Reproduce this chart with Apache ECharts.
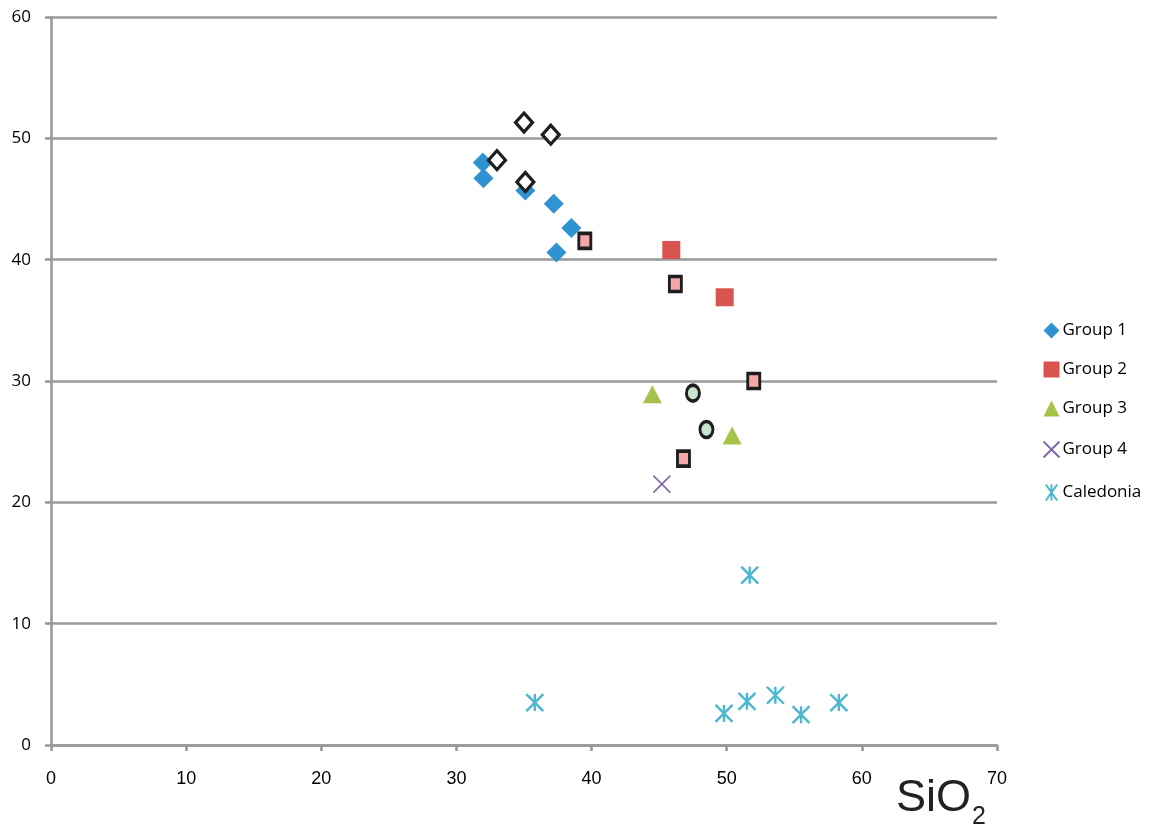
<!DOCTYPE html>
<html><head><meta charset="utf-8">
<script src="https://cdn.jsdelivr.net/npm/echarts@6/dist/echarts.min.js"></script>
<style>html,body{margin:0;padding:0;background:#fff}#c{width:1150px;height:833px}</style>
</head><body><div id="c"></div>
<script>
// Data (SiO2, value)
const group1 = [[31.95,48.0],[32.0,46.7],[35.1,45.7],[37.2,44.6],[38.5,42.6],[37.4,40.6]];
const group2 = [[45.9,40.8],[49.85,36.9]];
const group3 = [[44.5,28.9],[50.4,25.5]];
const group4 = [[45.2,21.5]];
const caledonia = [[51.7,14.0],[35.8,3.5],[49.8,2.6],[51.5,3.6],[53.6,4.1],[55.5,2.5],[58.3,3.5]];
const openDiamonds = [[35.0,51.3],[36.98,50.3],[33.0,48.2],[35.1,46.4]];
const pinkSquares = [[39.5,41.55],[46.2,38.0],[52.0,30.0],[46.8,23.6]];
const greenCircles = [[47.5,29.0],[48.5,26.0]];
const xTicks = [0,10,20,30,40,50,60,70];
const yTicks = [0,10,20,30,40,50,60];
const legendNames = ['Group 1','Group 2','Group 3','Group 4','Caledonia'];

const chart = echarts.init(document.getElementById('c'), null, {renderer:'canvas'});
const axisGray = '#999999';
const asterisk = 'path://M0,0L10,14M10,0L0,14M5,0L5,14';
const cross = 'path://M0,0L10,10M10,0L0,10';
chart.setOption({
  animation:false,
  backgroundColor:'#fff',
  grid:{left:51,right:153,top:17,bottom:88,containLabel:false},
  xAxis:{type:'value',min:xTicks[0],max:xTicks[xTicks.length-1],interval:10,
    axisLine:{show:true,onZero:false,lineStyle:{color:axisGray,width:2.6}},
    axisTick:{show:true,length:6,lineStyle:{color:axisGray,width:2.6}},
    splitLine:{show:false},
    axisLabel:{color:'#000',fontSize:18,fontFamily:'Liberation Sans, Arial, sans-serif',margin:25}},
  yAxis:{type:'value',min:yTicks[0],max:yTicks[yTicks.length-1],interval:10,
    axisLine:{show:true,onZero:false,lineStyle:{color:axisGray,width:2.6}},
    axisTick:{show:true,length:6,lineStyle:{color:axisGray,width:2.6}},
    splitLine:{show:true,lineStyle:{color:axisGray,width:2.6}},
    axisLabel:{color:'#000',fontSize:17,fontFamily:'Open Sans, Lato, sans-serif',margin:20}},
  legend:{orient:'vertical',left:1036,top:317,itemGap:22,itemWidth:16,itemHeight:16,
    data:legendNames,
    textStyle:{color:'#000',fontSize:17,fontFamily:'Open Sans, Lato, sans-serif',padding:[0,0,0,-2]}},
  graphic:[
    {type:'text',left:896,top:776,style:{text:'SiO',fontSize:45,fontFamily:'Liberation Sans, Arial, sans-serif',fill:'#222'}},
    {type:'text',left:972,top:805,style:{text:'2',fontSize:25,fontFamily:'Liberation Sans, Arial, sans-serif',fill:'#222'}}
  ],
  series:[
    {name:'open',type:'scatter',data:openDiamonds,symbol:'diamond',symbolSize:[17,19],z:3,
      itemStyle:{color:'#fff',borderColor:'#1e1e1e',borderWidth:3.2,opacity:1}},
    {name:'Group 1',type:'scatter',data:group1,symbol:'diamond',symbolSize:[20,20],z:2,
      itemStyle:{color:'#2F93D1',opacity:1}},
    {name:'Group 2',type:'scatter',data:group2,symbol:'rect',symbolSize:18,
      itemStyle:{color:'#D9534F',opacity:1}},
    {name:'pink',type:'scatter',data:pinkSquares,symbol:'rect',symbolSize:[12,15],z:3,
      itemStyle:{color:'#F4A6A8',borderColor:'#1e1e1e',borderWidth:3.2,opacity:1}},
    {name:'Group 3',type:'scatter',data:group3,symbol:'triangle',symbolSize:[19,18],
      itemStyle:{color:'#A6C24A',opacity:1}},
    {name:'green',type:'scatter',data:greenCircles,symbol:'circle',symbolSize:[13,16],z:3,
      itemStyle:{color:'#C8E4CF',borderColor:'#1e1e1e',borderWidth:3.2,opacity:1}},
    {name:'Group 4',type:'scatter',data:group4,symbol:cross,symbolSize:17,
      itemStyle:{color:'none',borderColor:'#7E6BAE',borderWidth:1.6,opacity:1}},
    {name:'Caledonia',type:'scatter',data:caledonia,symbol:asterisk,symbolSize:[17,17],
      itemStyle:{color:'none',borderColor:'#4BB8D0',borderWidth:2.4,opacity:1}}
  ]
});
</script></body></html>
